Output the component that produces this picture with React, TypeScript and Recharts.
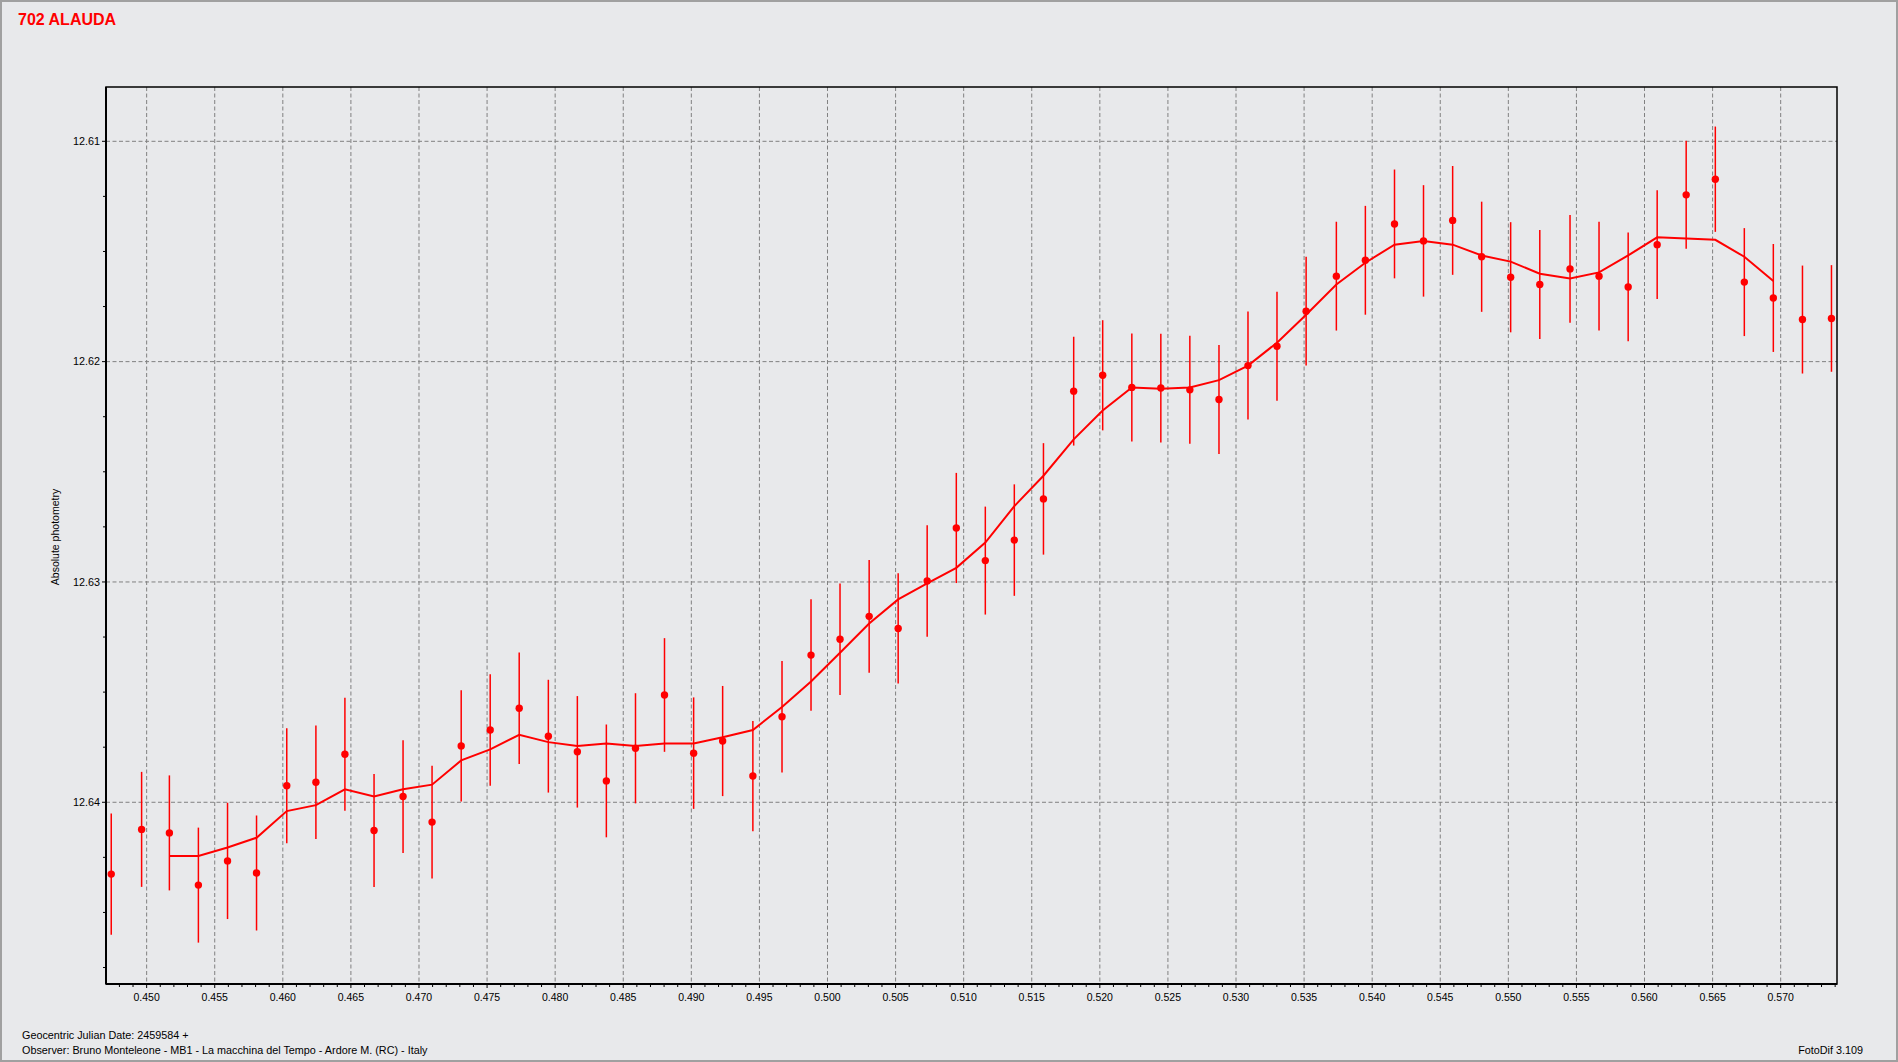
import React from 'react';
import { ComposedChart, Scatter, Line, XAxis, YAxis, CartesianGrid, ErrorBar, ReferenceArea } from 'recharts';

const TITLE = '702 ALAUDA';
const Y_LABEL = 'Absolute photometry';
const FOOT_1 = 'Geocentric Julian Date: 2459584 +';
const FOOT_2 = 'Observer: Bruno Monteleone - MB1 - La macchina del Tempo - Ardore M. (RC) - Italy';
const FOOT_3 = 'FotoDif 3.109';

const JD = [0.44740, 0.44963, 0.45167, 0.45380, 0.45594, 0.45807, 0.46029, 0.46243, 0.46456, 0.46670,
  0.46883, 0.47096, 0.47310, 0.47523, 0.47736, 0.47950, 0.48163, 0.48376, 0.48590, 0.48803,
  0.49017, 0.49230, 0.49452, 0.49666, 0.49879, 0.50092, 0.50306, 0.50519, 0.50732, 0.50946,
  0.51159, 0.51372, 0.51586, 0.51808, 0.52021, 0.52235, 0.52448, 0.52661, 0.52875, 0.53088,
  0.53301, 0.53515, 0.53737, 0.53950, 0.54164, 0.54377, 0.54591, 0.54804, 0.55017, 0.55231,
  0.55453, 0.55666, 0.55880, 0.56093, 0.56306, 0.56520, 0.56733, 0.56946, 0.57160, 0.57373];

const MAG = [12.64326, 12.64123, 12.64139, 12.64376, 12.64266, 12.64321, 12.63925, 12.63909, 12.63782, 12.64128,
  12.63974, 12.64090, 12.63744, 12.63672, 12.63573, 12.63700, 12.63771, 12.63903, 12.63755, 12.63513,
  12.63777, 12.63722, 12.63881, 12.63612, 12.63332, 12.63260, 12.63156, 12.63211, 12.62996, 12.62755,
  12.62903, 12.62810, 12.62623, 12.62134, 12.62062, 12.62117, 12.62120, 12.62128, 12.62172, 12.62018,
  12.61930, 12.61771, 12.61612, 12.61540, 12.61375, 12.61452, 12.61359, 12.61524, 12.61617, 12.61650,
  12.61579, 12.61612, 12.61661, 12.61469, 12.61243, 12.61172, 12.61639, 12.61711, 12.61809, 12.61804];

const ERR = [0.00275, 0.00261, 0.00261, 0.00261, 0.00264, 0.00261, 0.00261, 0.00258, 0.00256, 0.00256,
  0.00256, 0.00256, 0.00253, 0.00253, 0.00253, 0.00256, 0.00253, 0.00256, 0.00250, 0.00258,
  0.00253, 0.00250, 0.00250, 0.00253, 0.00253, 0.00253, 0.00256, 0.00250, 0.00253, 0.00250,
  0.00245, 0.00253, 0.00253, 0.00247, 0.00250, 0.00245, 0.00247, 0.00245, 0.00247, 0.00245,
  0.00247, 0.00247, 0.00247, 0.00247, 0.00247, 0.00253, 0.00247, 0.00250, 0.00250, 0.00247,
  0.00245, 0.00247, 0.00247, 0.00247, 0.00245, 0.00239, 0.00245, 0.00245, 0.00245, 0.00242];

const AVG: (number | null)[] = [null, null, 12.64244, 12.64244, 12.64205, 12.64161, 12.64040, 12.64013, 12.63941, 12.63974,
  12.63941, 12.63920, 12.63810, 12.63760, 12.63694, 12.63727, 12.63744, 12.63733, 12.63744, 12.63733,
  12.63733, 12.63705, 12.63672, 12.63568, 12.63452, 12.63321, 12.63189, 12.63079, 12.63007, 12.62936,
  12.62821, 12.62656, 12.62518, 12.62353, 12.62222, 12.62117, 12.62123, 12.62117, 12.62084, 12.62018,
  12.61914, 12.61787, 12.61650, 12.61551, 12.61469, 12.61452, 12.61469, 12.61518, 12.61546, 12.61601,
  12.61623, 12.61595, 12.61518, 12.61436, 12.61441, 12.61447, 12.61524, 12.61634, null, null];

const X_MAJOR = [0.450, 0.455, 0.460, 0.465, 0.470, 0.475, 0.480, 0.485, 0.490, 0.495, 0.500, 0.505, 0.510,
  0.515, 0.520, 0.525, 0.530, 0.535, 0.540, 0.545, 0.550, 0.555, 0.560, 0.565, 0.570];
const Y_MAJOR = [12.61, 12.62, 12.63, 12.64];
const Y_TICKS = [12.61, 12.6125, 12.615, 12.6175, 12.62, 12.6225, 12.625, 12.6275, 12.63, 12.6325,
  12.635, 12.6375, 12.64, 12.6425, 12.645, 12.6475];
const X_TICKS: number[] = [];
for (let i = 448; i <= 574; i++) X_TICKS.push(i / 1000);

const X_DOMAIN = [0.447015, 0.574136];
const Y_DOMAIN = [12.607535, 12.648248];

const data = JD.map((x, i) => ({ x, y: MAG[i], err: ERR[i], avg: AVG[i] }));

const RED = '#ff0000';
const FONT = '"Liberation Sans", Arial, sans-serif';

const isMajor = (arr: number[], v: number) => arr.some((m) => Math.abs(m - v) < 1e-7);

const XTick = (props: any) => {
  const { x, y, payload } = props;
  const v = payload.value as number;
  const major = isMajor(X_MAJOR, v);
  return (
    <g>
      <line x1={x} x2={x} y1={y} y2={y + (major ? 4 : 3)} stroke="#000" strokeWidth={1} />
      {major && (
        <text x={x} y={y + 16.5} textAnchor="middle" fontSize={10.5} fontFamily={FONT} fill="#000">
          {v.toFixed(3)}
        </text>
      )}
    </g>
  );
};

const YTick = (props: any) => {
  const { x, y, payload } = props;
  const v = payload.value as number;
  const major = isMajor(Y_MAJOR, v);
  return (
    <g>
      <line x1={x - (major ? 4 : 3)} x2={x} y1={y} y2={y} stroke="#000" strokeWidth={1} />
      {major && (
        <text x={x - 6} y={y + 3.8} textAnchor="end" fontSize={10.8} fontFamily={FONT} fill="#000">
          {v.toFixed(2)}
        </text>
      )}
    </g>
  );
};

const Dot = (props: any) => {
  const { cx, cy } = props;
  if (cx == null || cy == null) return null;
  return <circle cx={cx} cy={cy} r={3.7} fill={RED} />;
};

export default function App() {
  return (
    <div style={{ position: 'absolute', left: 0, top: 0, width: 1898, height: 1062, background: '#e8e9eb', overflow: 'hidden' }}>
      <div style={{ position: 'absolute', left: 0, top: 0, width: 1894, height: 1058, border: '2px solid #a0a0a0', boxSizing: 'content-box' }} />
      <ComposedChart
        width={1898}
        height={1062}
        data={data}
        margin={{ top: 87, right: 61, bottom: 48, left: 46 }}
        style={{ position: 'absolute', left: 0, top: 0 }}
      >
        <CartesianGrid
          stroke="#808080"
          strokeDasharray="4 2.5"
          verticalValues={X_MAJOR}
          horizontalValues={Y_MAJOR}
          fill="none"
        />
        <XAxis
          type="number"
          dataKey="x"
          domain={X_DOMAIN}
          allowDataOverflow
          ticks={X_TICKS}
          interval={0}
          tick={<XTick />}
          tickLine={false}
          tickSize={0}
          tickMargin={0}
          height={30}
          axisLine={{ stroke: '#000', strokeWidth: 2 }}
        />
        <YAxis
          type="number"
          domain={Y_DOMAIN}
          reversed
          allowDataOverflow
          ticks={Y_TICKS}
          interval={0}
          tick={<YTick />}
          tickLine={false}
          tickSize={0}
          tickMargin={0}
          width={60}
          axisLine={{ stroke: '#000', strokeWidth: 2 }}
        />
        <ReferenceArea
          x1={X_DOMAIN[0]}
          x2={X_DOMAIN[1]}
          y1={Y_DOMAIN[0]}
          y2={Y_DOMAIN[1]}
          fill="none"
          fillOpacity={0}
          stroke="#000"
          strokeWidth={1.5}
          ifOverflow="visible"
        />
        <Scatter dataKey="y" shape={<Dot />} fill={RED} isAnimationActive={false}>
          <ErrorBar dataKey="err" direction="y" width={0} stroke={RED} strokeWidth={1.5} isAnimationActive={false} />
        </Scatter>
        <Line
          dataKey="avg"
          type="linear"
          stroke={RED}
          strokeWidth={2}
          dot={false}
          activeDot={false}
          isAnimationActive={false}
        />
      </ComposedChart>
      <svg width={1898} height={1062} style={{ position: 'absolute', left: 0, top: 0, pointerEvents: 'none' }}>
        <text x={18} y={25} fontSize={16} fontWeight="bold" fontFamily={FONT} fill={RED}>{TITLE}</text>
        <text
          x={0}
          y={0}
          transform="translate(59,537) rotate(-90)"
          textAnchor="middle"
          fontSize={10.5}
          fontFamily={FONT}
          fill="#000"
        >
          {Y_LABEL}
        </text>
        <text x={22} y={1038.5} fontSize={10.8} fontFamily={FONT} fill="#000">{FOOT_1}</text>
        <text x={22} y={1054} fontSize={10.8} fontFamily={FONT} fill="#000">{FOOT_2}</text>
        <text x={1863} y={1054} textAnchor="end" fontSize={10.8} fontFamily={FONT} fill="#000">{FOOT_3}</text>
      </svg>
    </div>
  );
}
